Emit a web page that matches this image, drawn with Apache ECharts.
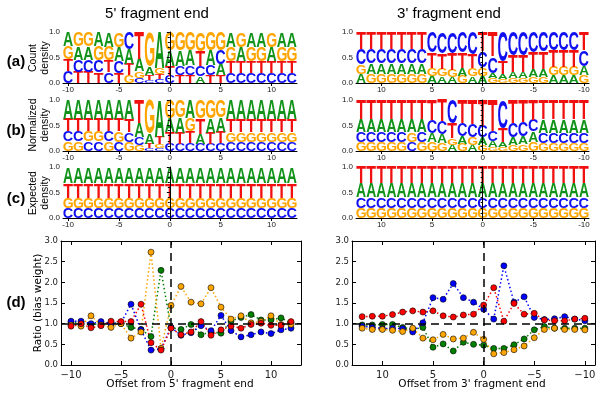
<!DOCTYPE html>
<html><head><meta charset="utf-8">
<script src="https://cdn.jsdelivr.net/npm/echarts@6/dist/echarts.min.js"></script>
<style>html,body{margin:0;padding:0;background:#fff}#c{width:600px;height:393px}</style>
</head><body><div id="c"></div>
<script>
// positions
const offsets5 = [-10,-9,-8,-7,-6,-5,-4,-3,-2,-1,0,1,2,3,4,5,6,7,8,9,10,11,12];
const offsets3 = [12,11,10,9,8,7,6,5,4,3,2,1,0,-1,-2,-3,-4,-5,-6,-7,-8,-9,-10];

// (a) count density, 5' end
const a5_A = [.28,.26,.26,.28,.29,.28,.30,.25,.16,.70,.30,.30,.30,.13,.30,.22,.29,.28,.29,.29,.28,.29,.29];
const a5_C = [.23,.24,.24,.24,.21,.23,.33,.10,.06,.08,.14,.19,.19,.20,.20,.28,.20,.20,.20,.20,.20,.20,.20];
const a5_G = [.26,.28,.28,.27,.27,.29,.15,.13,.68,.13,.36,.36,.35,.37,.35,.35,.28,.29,.28,.28,.29,.28,.28];
const a5_T = [.23,.22,.22,.21,.23,.20,.22,.52,.10,.09,.20,.15,.16,.30,.15,.15,.23,.23,.23,.23,.23,.23,.23];
// (b) normalized density, 5' end
const b5_A = [.37,.37,.37,.37,.37,.37,.38,.28,.20,.72,.27,.30,.36,.20,.28,.28,.37,.37,.37,.37,.37,.37,.37];
const b5_C = [.20,.20,.19,.19,.20,.18,.19,.15,.05,.05,.14,.14,.15,.14,.14,.16,.18,.18,.18,.18,.18,.18,.18];
const b5_G = [.19,.19,.20,.20,.19,.21,.18,.12,.66,.08,.36,.34,.26,.36,.36,.34,.19,.19,.19,.19,.19,.19,.19];
const b5_T = [.24,.24,.24,.24,.24,.24,.25,.45,.09,.15,.23,.22,.23,.30,.22,.22,.26,.26,.26,.26,.26,.26,.26];
// (c) expected density, 5' end
const c5_A = [.31,.31,.31,.31,.31,.31,.31,.31,.31,.31,.31,.31,.31,.31,.31,.31,.31,.31,.31,.31,.31,.31,.31];
const c5_C = [.20,.20,.20,.20,.20,.20,.20,.20,.20,.20,.20,.20,.20,.20,.20,.20,.20,.20,.20,.20,.20,.20,.20];
const c5_G = [.20,.20,.20,.20,.20,.20,.20,.20,.20,.20,.20,.20,.20,.20,.20,.20,.20,.20,.20,.20,.20,.20,.20];
const c5_T = [.29,.29,.29,.29,.29,.29,.29,.29,.29,.29,.29,.29,.29,.29,.29,.29,.29,.29,.29,.29,.29,.29,.29];

// (a) count density, 3' end (order of offsets3)
const a3_A = [.18,.20,.20,.20,.20,.20,.20,.14,.13,.12,.16,.13,.14,.11,.09,.12,.12,.15,.16,.15,.15,.15,.17];
const a3_C = [.30,.29,.29,.29,.29,.29,.29,.40,.42,.42,.40,.44,.32,.32,.58,.45,.45,.40,.38,.36,.36,.36,.32];
const a3_G = [.19,.18,.18,.18,.18,.18,.18,.16,.15,.14,.14,.16,.16,.09,.08,.10,.10,.12,.12,.17,.17,.17,.15];
const a3_T = [.33,.33,.33,.33,.33,.33,.33,.30,.30,.32,.30,.27,.38,.48,.25,.33,.33,.33,.34,.32,.32,.32,.36];
// (b) normalized density, 3' end
const b3_A = [.25,.25,.25,.25,.25,.25,.25,.18,.17,.12,.16,.12,.16,.12,.10,.15,.16,.20,.26,.26,.26,.26,.26];
const b3_C = [.20,.20,.20,.20,.20,.18,.20,.25,.25,.45,.25,.25,.22,.20,.55,.28,.28,.22,.20,.20,.20,.20,.20];
const b3_G = [.17,.17,.17,.17,.17,.19,.17,.17,.16,.13,.14,.15,.12,.08,.07,.12,.13,.18,.16,.16,.16,.16,.16];
const b3_T = [.38,.38,.38,.38,.38,.38,.38,.40,.42,.30,.45,.48,.50,.60,.28,.45,.43,.40,.38,.38,.38,.38,.38];
// (c) expected density, 3' end
const c3_A = [.27,.27,.27,.27,.27,.27,.27,.27,.27,.27,.27,.27,.27,.27,.27,.27,.27,.27,.27,.27,.27,.27,.27];
const c3_C = [.21,.21,.21,.21,.21,.21,.21,.21,.21,.21,.21,.21,.21,.21,.21,.21,.21,.21,.21,.21,.21,.21,.21];
const c3_G = [.20,.20,.20,.20,.20,.20,.20,.20,.20,.20,.20,.20,.20,.20,.20,.20,.20,.20,.20,.20,.20,.20,.20];
const c3_T = [.32,.32,.32,.32,.32,.32,.32,.32,.32,.32,.32,.32,.32,.32,.32,.32,.32,.32,.32,.32,.32,.32,.32];

// (d) ratio (bias weight), 5' end
const d5_A = [1.04,1.00,0.98,1.00,1.02,1.00,0.91,0.86,0.69,2.29,0.90,0.86,0.98,0.73,0.80,0.77,1.06,1.15,1.22,1.09,1.09,1.14,1.02];
const d5_C = [1.06,1.06,1.00,1.05,1.00,1.02,1.47,0.85,0.36,0.39,0.91,0.72,0.78,0.95,0.83,1.20,0.83,0.68,0.73,0.80,0.76,0.85,0.89];
const d5_G = [0.97,0.94,1.19,0.97,0.91,1.00,0.65,0.80,2.73,0.40,1.44,1.90,1.52,1.48,1.87,1.40,1.11,1.19,1.02,1.05,1.19,0.98,0.98];
const d5_T = [0.94,1.00,0.90,0.95,1.06,1.05,1.05,1.47,0.54,0.36,0.89,0.73,0.80,1.05,0.72,0.85,0.94,0.89,0.98,1.01,0.96,0.96,1.05];
// (d) ratio (bias weight), 3' end (order of offsets3)
const d3_A = [0.97,0.97,0.98,0.98,0.91,0.86,0.91,0.43,0.51,0.34,0.55,0.50,0.48,0.40,0.40,0.49,0.63,0.85,0.93,0.89,0.89,0.89,0.89];
const d3_C = [0.94,0.91,0.88,0.89,0.88,0.80,1.02,1.63,1.59,1.97,1.63,1.52,1.35,1.11,2.40,1.52,1.65,1.15,1.10,1.12,1.17,1.11,1.07];
const d3_G = [0.89,0.86,0.86,0.84,0.81,0.89,0.65,0.61,0.74,0.63,0.65,0.79,0.62,0.27,0.30,0.37,0.46,0.66,0.86,0.89,0.86,0.86,0.85];
const d3_T = [1.17,1.18,1.18,1.22,1.28,1.31,1.28,1.31,1.19,1.16,1.21,1.23,1.45,1.87,1.06,1.49,1.23,1.25,1.09,1.07,1.07,1.11,1.13];

const LETTERS = ['A','C','G','T'];
const LOGO_COLORS = ['#11931a','#1010f0','#ffa500','#f01010'];
const DOT_COLORS = ['#008000','#0000ff','#ffa500','#ff0000'];
const LOGO_FONT = 'bold 100px "Liberation Sans", Arial, sans-serif';

// measure glyph boxes so each letter can be stretched to its cell
const mctx = document.createElement('canvas').getContext('2d');
mctx.font = LOGO_FONT; mctx.textBaseline = 'middle'; mctx.textAlign = 'left';
const METRICS = LETTERS.map(l => {
  const m = mctx.measureText(l);
  const L = m.actualBoundingBoxLeft, R = m.actualBoundingBoxRight;
  const asc = m.actualBoundingBoxAscent, desc = m.actualBoundingBoxDescent;
  return {L, R, asc, desc, w: L + R, h: asc + desc};
});

function renderLetter(params, api) {
  const x = api.value(0), y0 = api.value(1), y1 = api.value(2), li = api.value(3);
  const p0 = api.coord([x - 0.47, y1]);
  const p1 = api.coord([x + 0.47, y0]);
  const left = Math.min(p0[0], p1[0]);
  const w = Math.abs(p1[0] - p0[0]);
  const top = p0[1];
  const h = p1[1] - p0[1];
  if (h < 0.4) return null;
  const m = METRICS[li];
  const sx = w / m.w, sy = h / m.h;
  return {
    type: 'text', x: left + sx * m.L, y: top + sy * m.asc, scaleX: sx, scaleY: sy,
    style: {text: LETTERS[li], x: 0, y: 0, font: LOGO_FONT, fill: LOGO_COLORS[li],
            align: 'left', verticalAlign: 'middle', textAlign: 'left', textVerticalAlign: 'middle'}
  };
}

function logoSeries(idx, xs, A, C, G, T) {
  const data = [];
  xs.forEach((x, i) => {
    const col = [[0, A[i]], [1, C[i]], [2, G[i]], [3, T[i]]].sort((p, q) => p[1] - q[1]);
    let y = 0;
    col.forEach(([li, h]) => { data.push([x, y, y + h, li]); y += h; });
  });
  return {type: 'custom', xAxisIndex: idx, yAxisIndex: idx, data, renderItem: renderLetter,
          encode: {x: 0, y: [1, 2]}, silent: true, clip: false, z: 1};
}

const axisTxt = '#222';
function logoX(idx, inverse) {
  return {type: 'value', gridIndex: idx, min: -10.5, max: 12.5, inverse: !!inverse, splitNumber: 5,
    axisLine: {show: true, onZero: false, lineStyle: {color: '#000', width: 1}},
    axisTick: {show: true, length: 3, lineStyle: {color: '#000'}},
    minorTick: {show: false},
    axisLabel: {fontSize: 8, color: axisTxt, margin: 3, fontFamily: 'Liberation Sans', showMinLabel: false, showMaxLabel: false},
    splitLine: {show: false}, z: 5};
}
function logoY(idx) {
  return {type: 'value', gridIndex: idx, min: 0, max: 1, interval: 0.5,
    axisLine: {show: true, lineStyle: {color: '#000', width: 1}},
    axisTick: {show: true, length: 3, lineStyle: {color: '#000'}},
    minorTick: {show: true, splitNumber: 5, length: 2, lineStyle: {color: '#000'}},
    axisLabel: {fontSize: 8, color: axisTxt, margin: 3, fontFamily: 'Liberation Sans', formatter: v => v.toFixed(1)},
    splitLine: {show: false}, z: 5};
}
const minus = v => String(v).replace('-', '\u2212');
function dX(idx, inverse, top) {
  return {type: 'value', gridIndex: idx, min: -11, max: 13, inverse: !!inverse, splitNumber: 5,
    position: top ? 'top' : 'bottom',
    axisLine: {show: true, onZero: false, lineStyle: {color: '#000', width: 1}},
    axisTick: {show: true, inside: true, length: 4, lineStyle: {color: '#000'}},
    axisLabel: {show: !top, fontSize: 10, color: axisTxt, margin: 5, fontFamily: 'DejaVu Sans', formatter: minus, showMinLabel: false, showMaxLabel: false},
    splitLine: {show: false}};
}
function dY(idx, right) {
  return {type: 'value', gridIndex: idx, min: 0, max: 3, interval: 0.5, position: right ? 'right' : 'left',
    axisLine: {show: true, onZero: false, lineStyle: {color: '#000', width: 1}},
    axisTick: {show: true, inside: true, length: 4, lineStyle: {color: '#000'}},
    axisLabel: {show: !right, fontSize: 8.5, color: axisTxt, margin: 3, fontFamily: 'DejaVu Sans', formatter: v => v.toFixed(1)},
    splitLine: {show: false}};
}
function dotSeries(idx, xs, ys, li, withRef) {
  const s = {type: 'line', xAxisIndex: idx, yAxisIndex: idx, data: xs.map((x, i) => [x, ys[i]]),
    symbol: 'circle', symbolSize: 6, showSymbol: true,
    itemStyle: {color: DOT_COLORS[li], borderColor: '#000', borderWidth: 0.6},
    lineStyle: {color: DOT_COLORS[li], width: 1.5, type: [1.5, 2.5]}, silent: true, z: 3};
  if (withRef) {
    s.markLine = {silent: true, symbol: 'none', label: {show: false}, animation: false,
      lineStyle: {color: '#000', width: 1.5, type: [8, 5]},
      data: [{yAxis: 1}, {xAxis: 0}]};
  }
  return s;
}

const grids = [
  {left: 63, top: 32, width: 234, height: 51},
  {left: 63, top: 100, width: 234, height: 51},
  {left: 63, top: 167, width: 234, height: 51},
  {left: 356, top: 32, width: 233, height: 51},
  {left: 356, top: 100, width: 233, height: 51},
  {left: 356, top: 167, width: 233, height: 51},
  {left: 61, top: 241, width: 240, height: 124},
  {left: 352, top: 241, width: 243, height: 124}
];

const series = [
  logoSeries(0, offsets5, a5_A, a5_C, a5_G, a5_T),
  logoSeries(1, offsets5, b5_A, b5_C, b5_G, b5_T),
  logoSeries(2, offsets5, c5_A, c5_C, c5_G, c5_T),
  logoSeries(3, offsets3, a3_A, a3_C, a3_G, a3_T),
  logoSeries(4, offsets3, b3_A, b3_C, b3_G, b3_T),
  logoSeries(5, offsets3, c3_A, c3_C, c3_G, c3_T),
  dotSeries(6, offsets5, d5_A, 0, true),
  dotSeries(6, offsets5, d5_C, 1),
  dotSeries(6, offsets5, d5_G, 2),
  dotSeries(6, offsets5, d5_T, 3),
  dotSeries(7, offsets3, d3_A, 0, true),
  dotSeries(7, offsets3, d3_C, 1),
  dotSeries(7, offsets3, d3_G, 2),
  dotSeries(7, offsets3, d3_T, 3)
];

function txt(text, x, y, font, opts) {
  return Object.assign({type: 'text', x, y, silent: true,
    style: {text, font, fill: '#000', textAlign: 'center', textVerticalAlign: 'middle', align: 'center', verticalAlign: 'middle'}}, opts || {});
}
const F_TITLE = '15px "Liberation Sans", Arial, sans-serif';
const F_PANEL = 'bold 15px "Liberation Sans", Arial, sans-serif';
const F_YNAME = '10.5px "Liberation Sans", Arial, sans-serif';
const F_DNAME = '10.5px "DejaVu Sans", sans-serif';
const rot = Math.PI / 2;
const graphic = [
  txt("5' fragment end", 157, 14, F_TITLE),
  txt("3' fragment end", 449, 14, F_TITLE),
  txt('(a)', 16, 62, F_PANEL),
  txt('(b)', 16, 131, F_PANEL),
  txt('(c)', 16, 199, F_PANEL),
  txt('(d)', 16, 303, F_PANEL),
  txt('Count', 33, 58, F_YNAME, {rotation: rot}),
  txt('density', 45, 58, F_YNAME, {rotation: rot}),
  txt('Normalized', 33, 125, F_YNAME, {rotation: rot}),
  txt('density', 45, 125, F_YNAME, {rotation: rot}),
  txt('Expected', 33, 193, F_YNAME, {rotation: rot}),
  txt('density', 45, 193, F_YNAME, {rotation: rot}),
  txt('Ratio (bias weight)', 38, 303, F_DNAME, {rotation: rot}),
  txt("Offset from 5' fragment end", 180, 384, F_DNAME),
  txt("Offset from 3' fragment end", 472, 384, F_DNAME)
];

const chart = echarts.init(document.getElementById('c'), null, {renderer: 'canvas'});
chart.setOption({
  animation: false,
  backgroundColor: '#fff',
  grid: grids,
  xAxis: [logoX(0), logoX(1), logoX(2), logoX(3, true), logoX(4, true), logoX(5, true),
          dX(6), dX(7, true), dX(6, false, true), dX(7, true, true)],
  yAxis: [logoY(0), logoY(1), logoY(2), logoY(3), logoY(4), logoY(5),
          dY(6), dY(7), dY(6, true), dY(7, true)],
  series,
  graphic
});
</script></body></html>
